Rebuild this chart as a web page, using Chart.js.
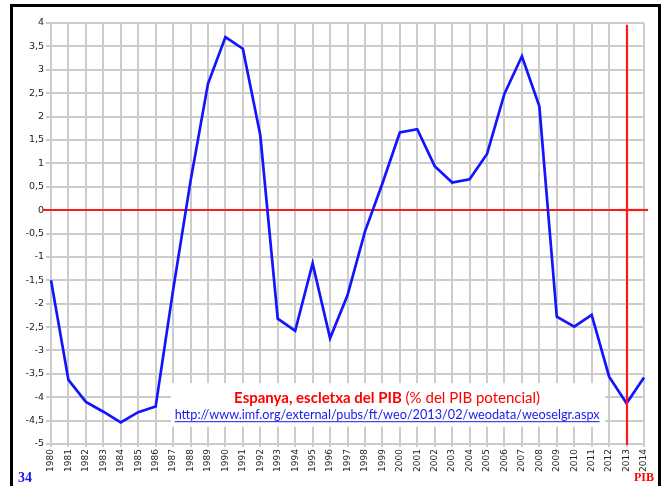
<!DOCTYPE html>
<html>
<head>
<meta charset="utf-8">
<script src="https://cdn.jsdelivr.net/npm/chart.js@4.4.1/dist/chart.umd.min.js"></script>
<style>
html,body{margin:0;padding:0;background:#fff;overflow:hidden;}
#wrap{position:relative;width:665px;height:486px;}
#frame{position:absolute;left:10px;top:4px;width:645px;height:500px;border:3px solid #000;box-sizing:content-box;}
canvas{position:absolute;left:0;top:0;}
</style>
</head>
<body>
<div id="wrap">
<div id="frame"></div>
<canvas id="c" width="665" height="486"></canvas>
</div>
<script>
const years = ['1980','1981','1982','1983','1984','1985','1986','1987','1988','1989','1990','1991','1992','1993','1994','1995','1996','1997','1998','1999','2000','2001','2002','2003','2004','2005','2006','2007','2008','2009','2010','2011','2012','2013','2014'];
const outputGap = [-1.50,-3.63,-4.10,-4.31,-4.54,-4.32,-4.20,-1.71,0.62,2.70,3.70,3.45,1.60,-2.32,-2.58,-1.14,-2.74,-1.82,-0.46,0.57,1.66,1.73,0.94,0.59,0.66,1.20,2.49,3.29,2.22,-2.28,-2.49,-2.24,-3.56,-4.13,-3.58];
const yTickValues = [-5,-4.5,-4,-3.5,-3,-2.5,-2,-1.5,-1,-0.5,0,0.5,1,1.5,2,2.5,3,3.5,4];
const markerYear = '2013';
const zeroLevel = 0;
const titleBold = 'Espanya, escletxa del PIB';
const titleRegular = ' (% del PIB potencial)';
const sourceUrl = 'http://www.imf.org/external/pubs/ft/weo/2013/02/weodata/weoselgr.aspx';
const pageNumber = '34';
const cornerTag = 'PIB';

const refPlugin = {
  id: 'refs',
  beforeDatasetsDraw(chart) {
    const {ctx, chartArea: a, scales: {x, y}} = chart;
    ctx.save();
    const bx0 = x.getPixelForValue(7) - 2, bx1 = x.getPixelForValue(32) - 4;
    const by0 = y.getPixelForValue(-3.7) , by1 = y.getPixelForValue(-4.63);
    ctx.fillStyle = '#fff';
    ctx.fillRect(bx0, by0, bx1 - bx0, by1 - by0);
    const y0 = Math.round(y.getPixelForValue(zeroLevel));
    ctx.strokeStyle = '#ff1a1a';
    ctx.lineWidth = 2.2;
    ctx.beginPath();
    ctx.moveTo(a.left - 8, y0);
    ctx.lineTo(a.right + 4, y0);
    ctx.stroke();
    const cx = (bx0 + bx1) / 2 - 1;
    ctx.textBaseline = 'alphabetic';
    ctx.font = 'bold 15px Lato';
    const wB = ctx.measureText(titleBold).width;
    ctx.font = '15px Lato';
    const wR = ctx.measureText(titleRegular).width;
    let sx = cx - (wB + wR) / 2;
    ctx.fillStyle = '#ff0000';
    ctx.font = 'bold 15px Lato';
    ctx.textAlign = 'left';
    ctx.fillText(titleBold, sx, by0 + 20);
    ctx.font = '15px Lato';
    ctx.fillText(titleRegular, sx + wB, by0 + 20);
    ctx.font = '12.7px Lato';
    ctx.fillStyle = '#1a1aee';
    const wU = ctx.measureText(sourceUrl).width;
    const ux = cx - wU / 2, uy = by0 + 36;
    ctx.fillText(sourceUrl, ux, uy);
    ctx.strokeStyle = '#1a1aee';
    ctx.lineWidth = 1;
    ctx.beginPath();
    ctx.moveTo(ux, uy + 2.5);
    ctx.lineTo(ux + wU, uy + 2.5);
    ctx.stroke();
    ctx.restore();
  },
  afterDatasetsDraw(chart) {
    const {ctx, chartArea: a, scales: {x, y}} = chart;
    ctx.save();
    const xm = Math.round(x.getPixelForValue(years.indexOf(markerYear)));
    ctx.strokeStyle = '#ff1a1a';
    ctx.lineWidth = 2.2;
    ctx.beginPath();
    ctx.moveTo(xm, a.top + 2);
    ctx.lineTo(xm, a.bottom + 1);
    ctx.stroke();
    const y0 = Math.round(y.getPixelForValue(zeroLevel));
    ctx.beginPath();
    ctx.moveTo(xm - 8, y0);
    ctx.lineTo(a.right + 4, y0);
    ctx.stroke();
    ctx.font = 'bold 14px "Liberation Serif"';
    ctx.fillStyle = '#1a1aee';
    ctx.textAlign = 'left';
    ctx.fillText(pageNumber, 18, 482);
    ctx.fillStyle = '#ff0000';
    ctx.font = 'bold 12px "Liberation Serif"';
    ctx.fillText(cornerTag, 634, 481);
    ctx.restore();
  }
};

new Chart(document.getElementById('c'), {
  type: 'line',
  data: {
    labels: years,
    datasets: [{
      data: outputGap,
      borderColor: '#1414ff',
      borderWidth: 2.7,
      pointRadius: 0,
      tension: 0,
      fill: false
    }]
  },
  options: {
    responsive: false,
    animation: false,
    events: [],
    layout: {padding: {top: 23, right: 21, left: 0, bottom: 0}},
    plugins: {legend: {display: false}, tooltip: {enabled: false}},
    scales: {
      x: {
        offset: false,
        grid: {color: '#cccccc', lineWidth: 2, tickLength: 3, drawTicks: true},
        border: {display: false},
        ticks: {
          autoSkip: false, maxRotation: 90, minRotation: 90,
          font: {family: 'DejaVu Sans', size: 9}, color: '#222', padding: 2
        },
        afterFit(s) { s.height = 42; }
      },
      y: {
        min: -5, max: 4,
        afterBuildTicks(s) { s.ticks = yTickValues.map(v => ({value: v})); },
        grid: {color: '#cccccc', lineWidth: 2, tickLength: 5},
        border: {display: false},
        ticks: {
          font: {family: 'DejaVu Sans', size: 9.5}, color: '#222', padding: 2,
          callback: v => String(v).replace('.', ',')
        },
        afterFit(s) { s.width = 51; }
      }
    }
  },
  plugins: [refPlugin]
});
</script>
</body>
</html>
